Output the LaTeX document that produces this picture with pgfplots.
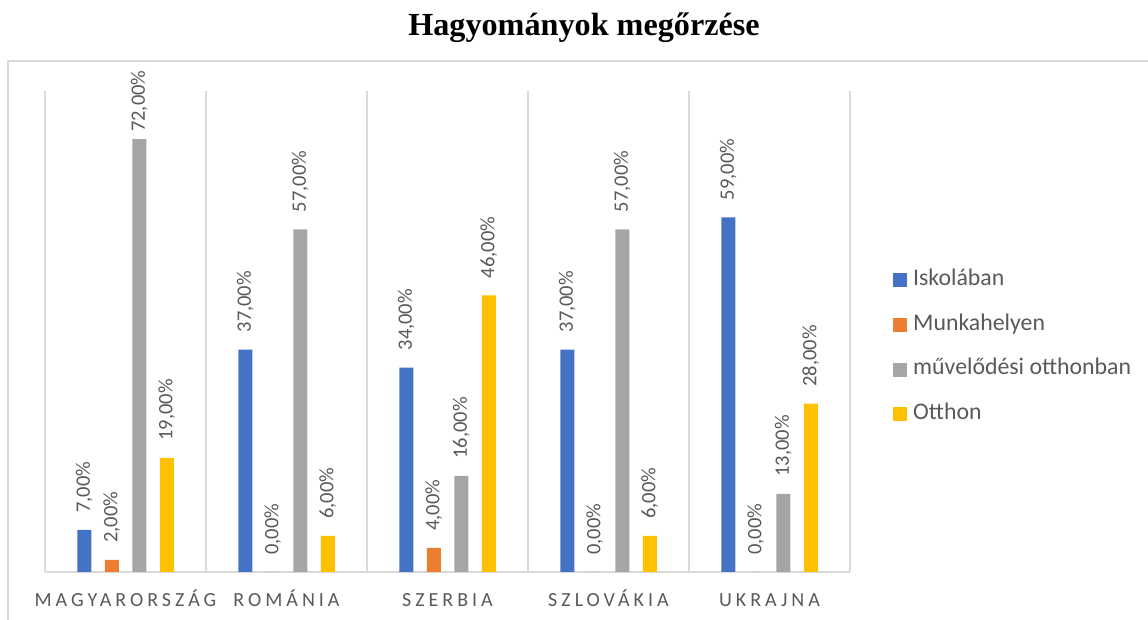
\documentclass[border=0pt]{standalone}
\usepackage{pgfplots}
\pgfplotsset{compat=1.18}
\usepackage{fontspec}
\setmainfont{Carlito}
\newfontfamily\titlefont{Liberation Serif}
\newfontfamily\catfont[LetterSpace=20]{Carlito}
\definecolor{cBlue}{HTML}{4472C4}
\definecolor{cOrange}{HTML}{ED7D31}
\definecolor{cGray}{HTML}{A5A5A5}
\definecolor{cYellow}{HTML}{FFC000}
\definecolor{gridgray}{HTML}{D9D9D9}
\definecolor{txtgray}{HTML}{595959}
\begin{document}
\begin{tikzpicture}[x=1pt,y=1pt]
\useasboundingbox (0,0) rectangle (1148,620);
\draw[gridgray, line width=1.5pt] (8,-5) -- (8,559) -- (1153,559);
\node[anchor=base, font=\titlefont\bfseries\fontsize{32.2}{38}\selectfont] at (584,584) {Hagyományok megőrzése};
\begin{axis}[
  at={(45pt,48pt)}, anchor=south west,
  scale only axis, width=805pt, height=481pt,
  xmin=-0.5, xmax=4.5, ymin=0, ymax=80,
  clip=false,
  ybar=13.5pt, bar width=14pt,
  axis x line=bottom, axis y line=none,
  x axis line style={draw=gridgray, line width=1.5pt, -},
  xtick={0,1,2,3,4},
  xticklabels={MAGYARORSZÁG, ROMÁNIA, SZERBIA, SZLOVÁKIA, UKRAJNA},
  major tick length=0pt, minor tick length=0pt,
  minor xtick={-0.5,0.5,1.5,2.5,3.5,4.5},
  xminorgrids,
  minor grid style={draw=gridgray, line width=1.5pt},
  xticklabel style={font=\catfont\fontsize{20}{24}\selectfont, text=txtgray, anchor=base, yshift=-35pt},
  ytick=\empty,
  /pgf/number format/assume math mode=true,
  nodes near coords={\pgfmathprintnumber[fixed, fixed zerofill, precision=2, use comma]{\pgfplotspointmeta}\%},
  every node near coord/.append style={rotate=90, anchor=west, inner sep=0pt, xshift=17pt, font=\fontsize{20.5}{24}\selectfont, text=txtgray},
  legend image code/.code={\fill[#1] (0pt,-7pt) rectangle (14pt,7pt); \path (20pt,0pt);},
  legend style={at={(1.0534,0.467)}, anchor=west, draw=none, fill=none, inner sep=0pt,
    font=\fontsize{23.8}{28}\selectfont, text=txtgray, row sep=26.7pt,
    nodes={inner sep=0pt, text height=14pt, text depth=4pt, anchor=west}},
  legend cell align=left,
]
\addplot[fill=cBlue, draw=none] coordinates {(0,7) (1,37) (2,34) (3,37) (4,59)};
\addlegendentry{Iskolában}
\addplot[fill=cOrange, draw=none] coordinates {(0,2) (1,0) (2,4) (3,0) (4,0)};
\addlegendentry{Munkahelyen}
\addplot[fill=cGray, draw=none,
  visualization depends on={\thisrow{s}\as\sh},
  every node near coord/.append style={xshift=\sh pt}] table {
x y s
0 72 -10
1 57 0
2 16 0
3 57 0
4 13 0
};
\addlegendentry{művelődési otthonban}
\addplot[fill=cYellow, draw=none] coordinates {(0,19) (1,6) (2,46) (3,6) (4,28)};
\addlegendentry{Otthon}
\end{axis}
\end{tikzpicture}
\end{document}
